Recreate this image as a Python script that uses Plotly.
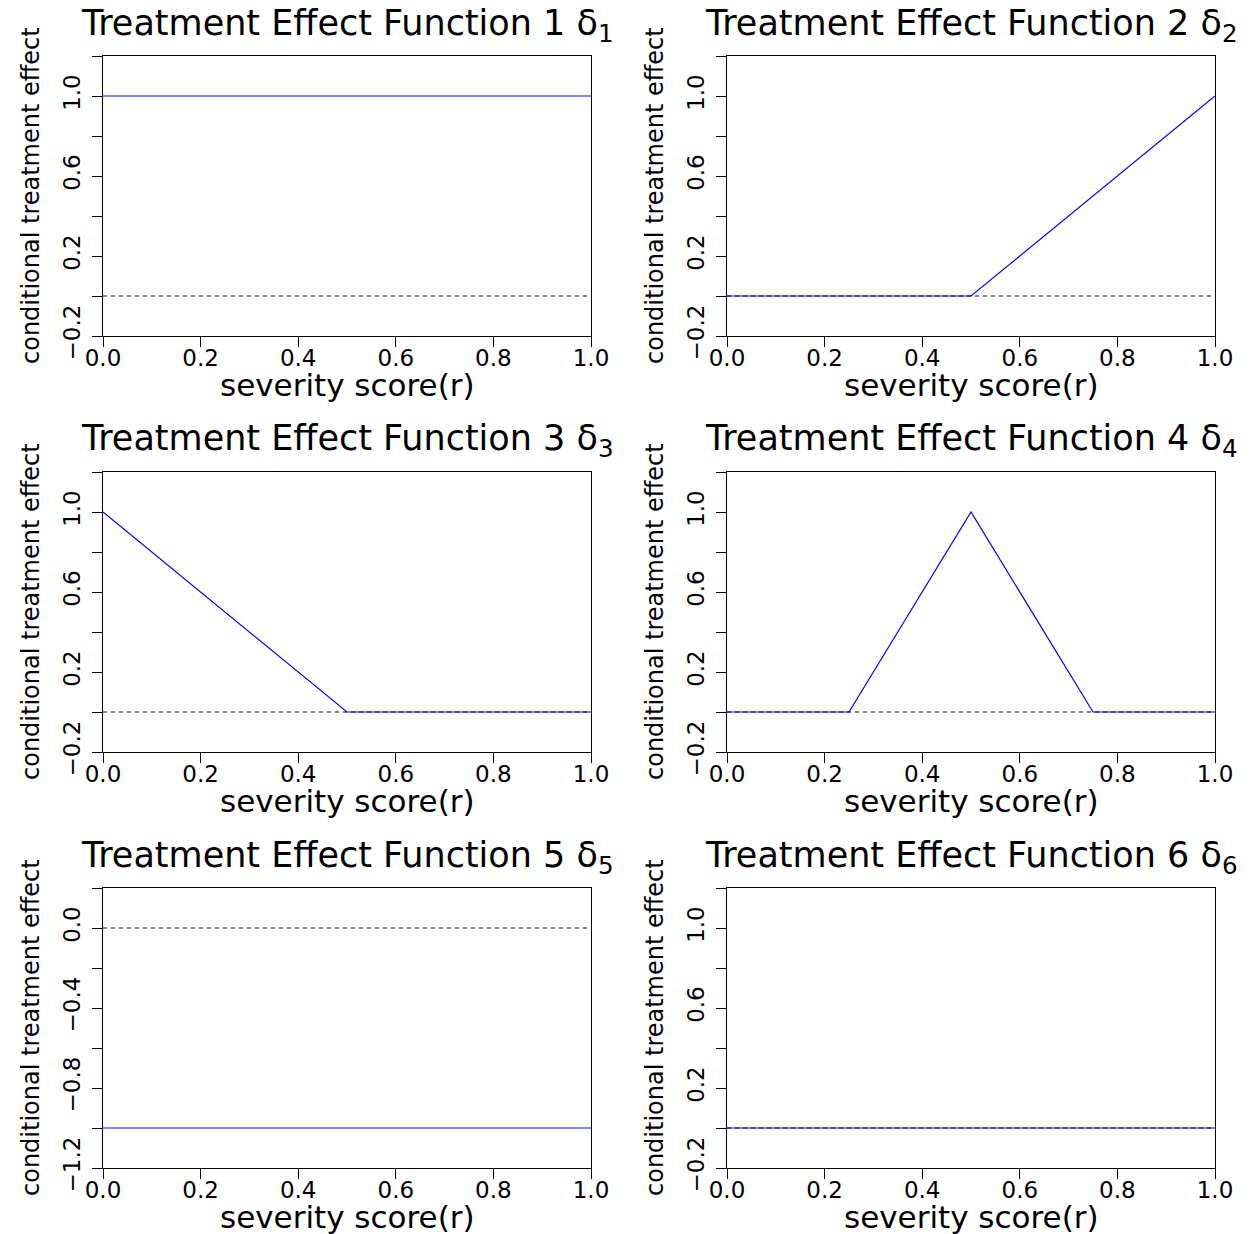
import plotly.graph_objects as go

W, H = 1252, 1234

# ---------------- data ----------------
panel_titles = [
    "Treatment Effect Function 1 δ<sub>1</sub>",
    "Treatment Effect Function 2 δ<sub>2</sub>",
    "Treatment Effect Function 3 δ<sub>3</sub>",
    "Treatment Effect Function 4 δ<sub>4</sub>",
    "Treatment Effect Function 5 δ<sub>5</sub>",
    "Treatment Effect Function 6 δ<sub>6</sub>",
]
x_label = "severity score(r)"
y_label = "conditional treatment effect"

x_f1 = [0.0, 1.0]
y_f1 = [1.0, 1.0]
x_f2 = [0.0, 0.5, 1.0]
y_f2 = [0.0, 0.0, 1.0]
x_f3 = [0.0, 0.5, 1.0]
y_f3 = [1.0, 0.0, 0.0]
x_f4 = [0.0, 0.25, 0.5, 0.75, 1.0]
y_f4 = [0.0, 0.0, 1.0, 0.0, 0.0]
x_f5 = [0.0, 1.0]
y_f5 = [-1.0, -1.0]
x_f6 = [0.0, 1.0]
y_f6 = [0.0, 0.0]

ref_x = [0.0, 1.0]
ref_y = [0.0, 0.0]

x_ticks = [0.0, 0.2, 0.4, 0.6, 0.8, 1.0]
x_tick_labels = ["0.0", "0.2", "0.4", "0.6", "0.8", "1.0"]

# labelled y ticks and unlabelled in-between ticks
y_ticks_pos = [-0.2, 0.2, 0.6, 1.0]
y_tick_labels_pos = ["\u22120.2", "0.2", "0.6", "1.0"]
y_minor_pos = [0.0, 0.4, 0.8, 1.2]
y_range_pos = [-0.2, 1.2]

y_ticks_neg = [-1.2, -0.8, -0.4, 0.0]
y_tick_labels_neg = ["\u22121.2", "\u22120.8", "\u22120.4", "0.0"]
y_minor_neg = [-1.0, -0.6, -0.2, 0.2]
y_range_neg = [-1.2, 0.2]

series = [(x_f1, y_f1), (x_f2, y_f2), (x_f3, y_f3),
          (x_f4, y_f4), (x_f5, y_f5), (x_f6, y_f6)]

# ---------------- layout geometry (pixels) ----------------
col_left = [103, 727]
col_right = [591, 1215]
row_top = [56, 472, 888]
row_bot = [336, 752, 1168]

FONT = "DejaVu Sans"

fig = go.Figure()
layout = dict(
    width=W, height=H, autosize=False,
    margin=dict(l=0, r=0, t=0, b=0, pad=0, autoexpand=False),
    paper_bgcolor="white", plot_bgcolor="white",
    showlegend=False,
    font=dict(family=FONT, color="black"),
)
annotations = []

for i, (xs, ys) in enumerate(series):
    r, c = divmod(i, 2)
    k = i + 1
    xa = "x" if k == 1 else f"x{k}"
    ya = "y" if k == 1 else f"y{k}"
    xkey = "xaxis" if k == 1 else f"xaxis{k}"
    ykey = "yaxis" if k == 1 else f"yaxis{k}"

    neg = (i == 4)
    yt = y_ticks_neg if neg else y_ticks_pos
    ytl = y_tick_labels_neg if neg else y_tick_labels_pos
    ym = y_minor_neg if neg else y_minor_pos
    yr = y_range_neg if neg else y_range_pos

    x0, x1 = col_left[c] / W, col_right[c] / W
    y0, y1 = 1 - row_bot[r] / H, 1 - row_top[r] / H

    layout[xkey] = dict(
        domain=[x0, x1], anchor=ya, range=[0, 1], automargin=False,
        tickmode="array", tickvals=x_ticks, ticktext=x_tick_labels,
        ticks="outside", ticklen=10, tickwidth=1, tickcolor="black",
        showline=True, linecolor="black", linewidth=1, mirror=True,
        showgrid=False, zeroline=False,
        tickfont=dict(family=FONT, size=23, color="black"),
        ticklabelstandoff=-9,
    )
    layout[ykey] = dict(
        domain=[y0, y1], anchor=xa, range=yr, automargin=False,
        tickmode="array", tickvals=yt, ticktext=ytl,
        ticks="outside", ticklen=10, tickwidth=1, tickcolor="black",
        minor=dict(tickmode="array", tickvals=ym, ticks="outside",
                   ticklen=10, tickwidth=1, tickcolor="black", showgrid=False),
        showline=True, linecolor="black", linewidth=1, mirror=True,
        showgrid=False, zeroline=False, tickangle=-90,
        tickfont=dict(family=FONT, size=23, color="black"),
        ticklabelstandoff=3,
    )

    fig.add_trace(go.Scatter(
        x=xs, y=ys, mode="lines", xaxis=xa, yaxis=ya,
        line=dict(color="#0000FF", width=1.2), hoverinfo="skip",
    ))
    fig.add_trace(go.Scatter(
        x=ref_x, y=ref_y, mode="lines", xaxis=xa, yaxis=ya,
        line=dict(color="black", width=1.2, dash="4px,4px"), hoverinfo="skip",
    ))

    cx = (col_left[c] + col_right[c]) / 2
    # title
    annotations.append(dict(
        text=panel_titles[i], xref="paper", yref="paper",
        x=cx / W, y=1 - (row_top[r] - 31) / H,
        xanchor="center", yanchor="middle", showarrow=False,
        font=dict(family=FONT, size=35, color="black"),
    ))
    # x label
    annotations.append(dict(
        text=x_label, xref="paper", yref="paper",
        x=cx / W, y=1 - (row_bot[r] + 49) / H,
        xanchor="center", yanchor="middle", showarrow=False,
        font=dict(family=FONT, size=31, color="black"),
    ))
    # y label
    cy = (row_top[r] + row_bot[r]) / 2
    annotations.append(dict(
        text=y_label, xref="paper", yref="paper",
        x=(col_left[c] - 72) / W, y=1 - cy / H,
        xanchor="center", yanchor="middle", showarrow=False, textangle=-90,
        font=dict(family=FONT, size=24, color="black"),
    ))

layout["annotations"] = annotations
fig.update_layout(**layout)
fig.write_html(
    "out.html",
    config={"displayModeBar": False, "staticPlot": True},
    post_script="document.body.style.margin='0';document.body.style.padding='0';",
)
